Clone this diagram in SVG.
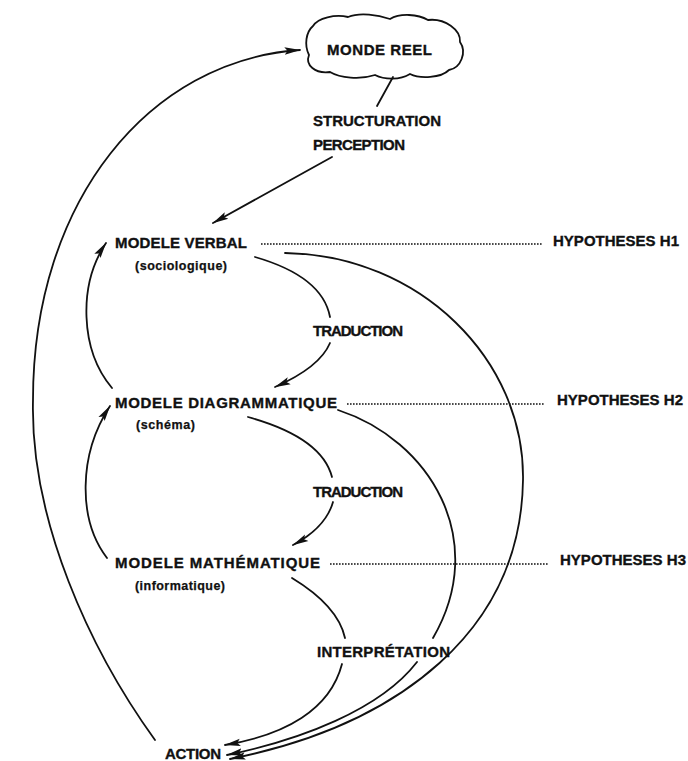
<svg xmlns="http://www.w3.org/2000/svg" width="688" height="761" viewBox="0 0 688 761">
<style>
.t{font-family:"Liberation Sans",Arial,sans-serif;font-weight:bold;font-size:15px;fill:#111;stroke:#111;stroke-width:0.35}
.s{font-family:"Liberation Sans",Arial,sans-serif;font-weight:bold;font-size:12.5px;fill:#111;stroke:#111;stroke-width:0.25}
.c{fill:none;stroke:#111;stroke-width:1.8;stroke-linecap:round}
.d{fill:none;stroke:#111;stroke-width:1.5;stroke-dasharray:1.6 1.4}
</style>
<defs>
<marker id="ah" viewBox="0 0 16 9" refX="15.5" refY="4.5" markerWidth="16" markerHeight="9" orient="auto" markerUnits="userSpaceOnUse">
<path d="M0,0.8 L16,4.5 L0,8.2 L3,4.5 Z" fill="#111"/>
</marker>
</defs>
<g id="monde-reel">
<path d="M313,26 C318,18 335,14 348,17 C360,12 378,15 390,19 C400,13 418,14 428,20 C445,18 461,30 460,42 C467,52 461,68 449,70 C441,78 420,79 410,74 C400,80 385,80 375,75 C360,80 340,78 330,72 C315,74 305,65 309,55 C304,45 306,32 313,26 Z" fill="#fff" stroke="#111" stroke-width="1.8"/>
<text class="t" x="327" y="55" textLength="105" lengthAdjust="spacing">MONDE REEL</text>
</g>
<g id="label-structuration">
<text class="t" x="313" y="126" textLength="128" lengthAdjust="spacing">STRUCTURATION</text>
<text class="t" x="313" y="150" textLength="92" lengthAdjust="spacing">PERCEPTION</text>
</g>
<g id="modele-verbal">
<text class="t" x="115" y="248" textLength="132" lengthAdjust="spacing">MODELE VERBAL</text>
<text class="s" x="135" y="270" textLength="92" lengthAdjust="spacing">(sociologique)</text>
</g>
<g id="modele-diagrammatique">
<text class="t" x="115" y="408" textLength="222" lengthAdjust="spacing">MODELE DIAGRAMMATIQUE</text>
<text class="s" x="136" y="429" textLength="59" lengthAdjust="spacing">(schéma)</text>
</g>
<g id="modele-mathematique">
<text class="t" x="115" y="568" textLength="205" lengthAdjust="spacing">MODELE MATHÉMATIQUE</text>
<text class="s" x="135" y="590" textLength="90" lengthAdjust="spacing">(informatique)</text>
</g>
<g id="action">
<text class="t" x="165" y="759" textLength="56" lengthAdjust="spacing">ACTION</text>
</g>
<g id="hypotheses-h1"><text class="t" x="553" y="246" textLength="126" lengthAdjust="spacing">HYPOTHESES H1</text></g>
<g id="hypotheses-h2"><text class="t" x="557" y="405" textLength="126" lengthAdjust="spacing">HYPOTHESES H2</text></g>
<g id="hypotheses-h3"><text class="t" x="560" y="565" textLength="126" lengthAdjust="spacing">HYPOTHESES H3</text></g>
<g id="label-traduction-1"><text class="t" x="313" y="336" textLength="90" lengthAdjust="spacing">TRADUCTION</text></g>
<g id="label-traduction-2"><text class="t" x="313" y="497" textLength="90" lengthAdjust="spacing">TRADUCTION</text></g>
<g id="label-interpretation"><text class="t" x="317" y="657" textLength="133" lengthAdjust="spacing">INTERPRÉTATION</text></g>
<g id="connectors">
<path class="d" d="M261,244 L542,244"/>
<path class="d" d="M347,404 L544,404"/>
<path class="d" d="M330,564 L548,564"/>
<path class="c" d="M393,77 L377,106"/>
<path class="c" d="M332,157 L213,223" marker-end="url(#ah)"/>
<path class="c" d="M155,740 C90,650 30,520 33,400 C33,200 150,60 300,50" marker-end="url(#ah)"/>
<path class="c" d="M112,388 C80,350 78,285 106,243" marker-end="url(#ah)"/>
<path class="c" d="M107,558 C78,520 78,455 110,406" marker-end="url(#ah)"/>
<path class="c" d="M255,257 C300,270 325,290 330,317"/>
<path class="c" d="M330,343 C322,362 300,376 275,387" marker-end="url(#ah)"/>
<path class="c" d="M248,417 C295,430 325,450 332,477"/>
<path class="c" d="M333,502 C328,520 312,535 293,545" marker-end="url(#ah)"/>
<path class="c" d="M292,578 C320,595 340,615 345,638"/>
<path class="c" d="M342,664 C330,710 285,735 225,745" marker-end="url(#ah)"/>
<path class="c" d="M338,410 C430,440 490,540 433,638"/>
<path class="c" d="M417,662 C380,710 300,740 227,755" marker-end="url(#ah)"/>
<path class="c" d="M285,253 C420,255 525,360 523,480 C521,630 400,725 230,759" marker-end="url(#ah)"/>
</g>
</svg>
